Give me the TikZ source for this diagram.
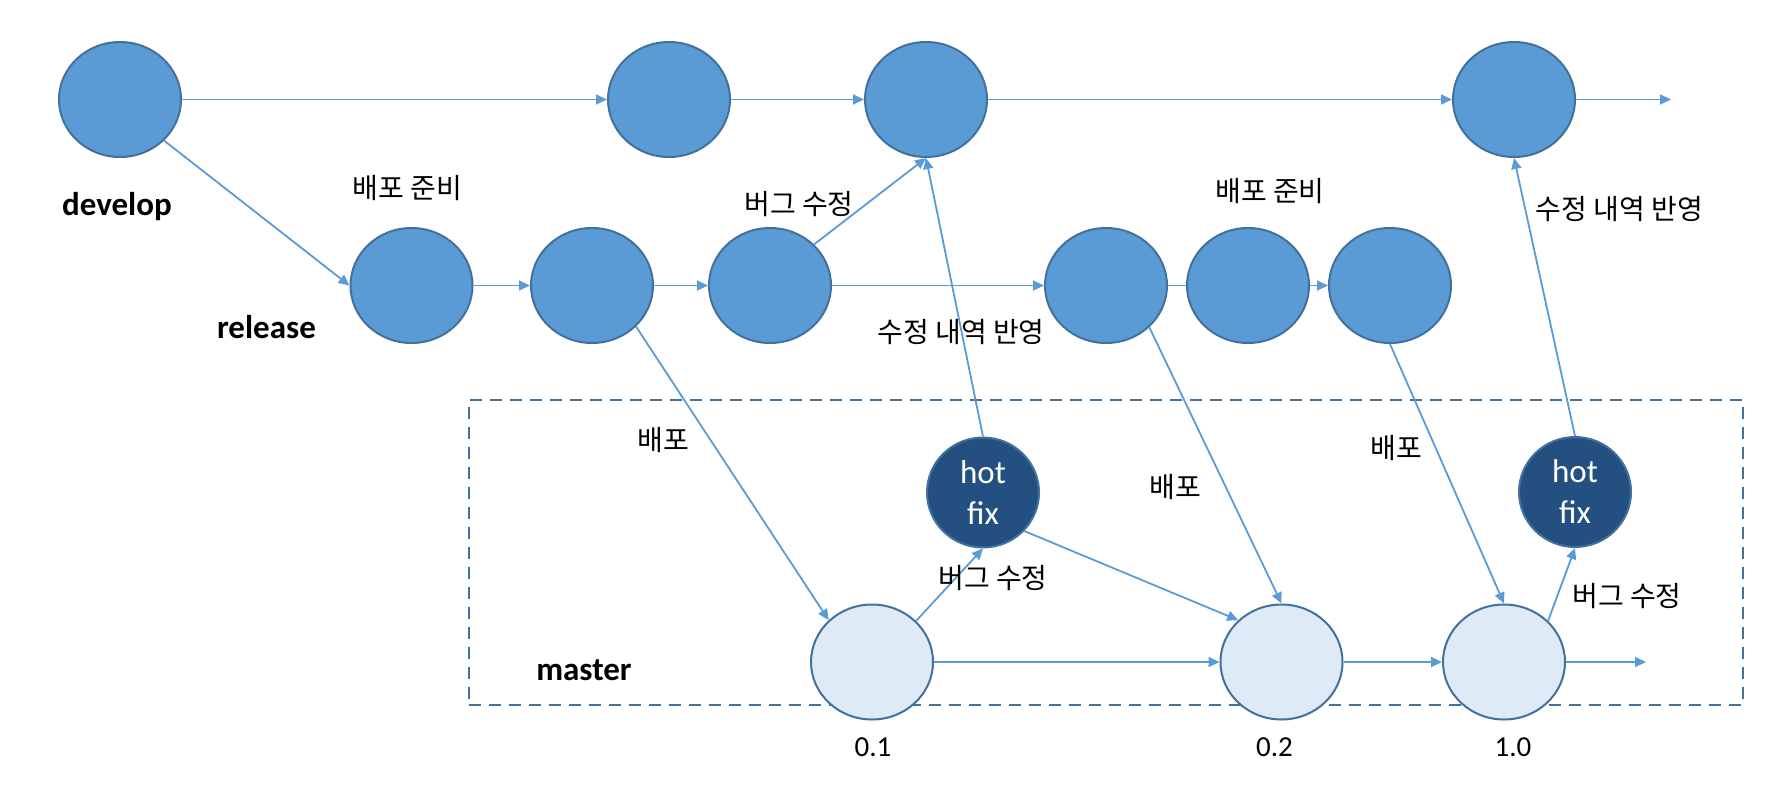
\documentclass[tikz,border=0pt]{standalone}
\usepackage{fontspec}
\setmainfont{Carlito}
\newfontfamily\kr{Noto Sans CJK KR}
\usetikzlibrary{arrows.meta,shapes.geometric}
\definecolor{nodefill}{HTML}{5B9BD5}
\definecolor{nodeline}{HTML}{41719C}
\definecolor{masterfill}{HTML}{DEEBF7}
\definecolor{hotfill}{HTML}{245081}
\definecolor{boxline}{HTML}{41719C}
\tikzset{
  commit/.style={ellipse, draw=nodeline, fill=nodefill, line width=2pt, minimum width=122pt, minimum height=115pt, inner sep=0pt},
  mcommit/.style={commit, fill=masterfill},
  hotnode/.style={ellipse, draw=nodeline, fill=hotfill, line width=2pt, minimum width=112pt, minimum height=110pt, inner sep=0pt, text=white, align=center, font=\fontsize{33}{41}\selectfont},
  flow/.style={draw=nodefill, line width=1.8pt, -{Triangle[length=11pt,width=10pt]}},
  plainflow/.style={draw=nodefill, line width=1.8pt},
  branch/.style={font=\fontsize{33}{38}\selectfont\bfseries, inner sep=0pt},
  krlabel/.style={font=\kr\fontsize{28}{32}\selectfont, inner sep=0pt},
  ver/.style={font=\fontsize{29}{32}\selectfont, inner sep=0pt},
  groupbox/.style={draw=boxline, line width=2.2pt, dash pattern=on 12pt off 8pt}
}
\begin{document}
\begin{tikzpicture}[x=1pt,y=-1pt]
\useasboundingbox (0,0) rectangle (1766,808);
% master group box
\node[groupbox, draw, minimum width=1274pt, minimum height=305pt, anchor=north west, inner sep=0pt] (box) at (468,399) {};
% develop
\node[commit] (D1) at (120,99.5) {};
\node[commit] (D2) at (669,99.5) {};
\node[commit] (D3) at (926,99.5) {};
\node[commit] (D4) at (1514,99.5) {};
\coordinate (Dend) at (1671,99.5);
% release
\node[commit] (R1) at (411.5,285.5) {};
\node[commit] (R2) at (592,285.5) {};
\node[commit] (R3) at (770,285.5) {};
\node[commit] (R5) at (1106,285.5) {};
\node[commit] (R6) at (1248,285.5) {};
\node[commit] (R7) at (1390,285.5) {};
% master
\node[mcommit] (M1) at (872,662) {};
\node[mcommit] (M2) at (1281.5,662) {};
\node[mcommit] (M3) at (1504,662) {};
\coordinate (Mend) at (1646,662);
% hotfix
\node[hotnode] (H1) at (983,492.5) {hot\\fix};
\node[hotnode] (H2) at (1575,492) {hot\\fix};
% connectors
\draw[flow] (D1.east) -- (D2.west);
\draw[flow] (D2.east) -- (D3.west);
\draw[flow] (D3.east) -- (D4.west);
\draw[flow] (D4.east) -- (Dend);
\draw[flow] (D1.-43) -- (R1.west);
\draw[flow] (R1.east) -- (R2.west);
\draw[flow] (R2.east) -- (R3.west);
\draw[flow] (R3.east) -- (R5.west);
\draw[plainflow] (R5.east) -- (R6.west);
\draw[flow] (R6.east) -- (R7.west);
\draw[flow] (R3.43) -- (D3.south);
\draw[flow] (H1.north) -- (D3.south);
\draw[flow] (R2.-43) -- (M1.136);
\draw[flow] (M1.43) -- (H1.south);
\draw[flow] (H1.-43) -- (M2.136);
\draw[flow] (R5.-44) -- (M2.north);
\draw[flow] (R7.south) -- (M3.north);
\draw[flow] (M1.east) -- (M2.west);
\draw[flow] (M2.east) -- (M3.west);
\draw[flow] (M3.east) -- (Mend);
\draw[flow] (M3.43) -- (H2.south);
\draw[flow] (H2.north) -- (D4.south);
% branch labels
\node[branch] (ldev) at (117,207) {develop};
\node[branch] (lrel) at (266.5,327) {release};
\node[branch] (lmas) at (584,670) {master};
% korean labels
\node[krlabel] (k1) at (407.5,188) {배포 준비};
\node[krlabel] (k2) at (1270,191) {배포 준비};
\node[krlabel] (k3) at (799,204) {버그 수정};
\node[krlabel] (k4) at (993,578) {버그 수정};
\node[krlabel] (k5) at (1627,596) {버그 수정};
\node[krlabel] (k6) at (961,332) {수정 내역 반영};
\node[krlabel] (k7) at (1619.5,209) {수정 내역 반영};
\node[krlabel] (k8) at (663,440) {배포};
\node[krlabel] (k9) at (1175,487) {배포};
\node[krlabel] (k10) at (1396,448) {배포};
% versions
\node[ver] (v1) at (873,747) {0.1};
\node[ver] (v2) at (1274.5,747) {0.2};
\node[ver] (v3) at (1513,747) {1.0};
\end{tikzpicture}
\end{document}
